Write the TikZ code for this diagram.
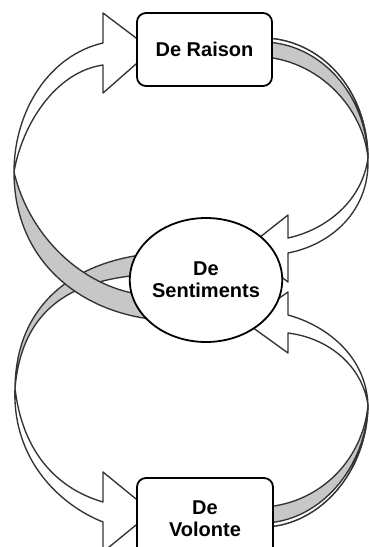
\documentclass[tikz,border=0pt]{standalone}
\usepackage{fontspec}
\setmainfont{Liberation Sans}
\usetikzlibrary{shapes.geometric}
\begin{document}
\begin{tikzpicture}[x=1pt,y=-1pt,
  rib/.style={draw=black!80, line width=1.35pt, line join=round},
  ribw/.style={rib, fill=white},
  ribg/.style={rib, fill=black!22},
  lbl/.style={align=center, font=\fontsize{20}{22}\selectfont\bfseries, inner sep=0pt},
  boxnode/.style={lbl, draw=black, line width=1.8pt, fill=white, rounded corners=9pt},
  ellnode/.style={lbl, draw=black, line width=1.8pt, fill=white, ellipse}
]
\useasboundingbox (0,0) rectangle (369,547);
\clip (0,0) rectangle (369,547);
% twist points of the ribbons
\coordinate (tw1) at (14,172);
\coordinate (tw2) at (368,158);
\coordinate (tw3) at (15,388);
\coordinate (tw4) at (368,405);

% ---- right upper ribbon: Raison -> Sentiments
\path[ribw] (tw2) .. controls (370,212) and (330,245) .. (288,253) -- (288,282) -- (245,249) -- (288,215) -- (288,238) .. controls (325,230) and (362,202) .. (tw2) -- cycle;
\path[ribg] (265,38) .. controls (320,40) and (367,88) .. (tw2) .. controls (363,108) and (320,62) .. (265,57) -- cycle;
\path[ribw] (265,38) .. controls (320,40) and (367,88) .. (tw2) .. controls (366,93) and (320,44) .. (265,42) -- cycle;

% ---- right lower ribbon: Volonte -> Sentiments
\path[ribw] (tw4) .. controls (366,355) and (325,325) .. (288,315) -- (288,292) -- (245,322) -- (288,353) -- (288,333) .. controls (328,338) and (362,365) .. (tw4) -- cycle;
\path[ribg] (265,527) .. controls (320,525) and (367,472) .. (tw4) .. controls (363,460) and (320,503) .. (265,507) -- cycle;
\path[ribw] (265,527) .. controls (320,525) and (367,472) .. (tw4) .. controls (366,468) and (320,521) .. (265,523) -- cycle;

% ---- left lower ribbon: Sentiments -> Volonte (below)
\path[ribg] (160,253) .. controls (80,258) and (16,300) .. (tw3) .. controls (22,310) and (70,276) .. (160,274) -- cycle;
\path[ribw] (tw3) .. controls (12,460) and (60,505) .. (103,522) -- (103,552) -- (152,512) -- (103,472) -- (103,502) .. controls (55,488) and (22,450) .. (tw3) -- cycle;

% ---- left upper ribbon: Sentiments -> Raison (on top at crossing)
\path[ribg] (160,320) .. controls (82,314) and (14,262) .. (tw1) .. controls (30,240) and (90,296) .. (160,296) -- cycle;
\path[ribw] (tw1) .. controls (14,110) and (50,55) .. (103,43) -- (103,13) -- (152,50) -- (103,93) -- (103,65) .. controls (55,72) and (22,125) .. (tw1) -- cycle;

% ---- nodes
\node[boxnode, minimum width=135pt, minimum height=73pt] (raison) at (204.5,49.5) {De Raison};
\node[boxnode, minimum width=136pt, minimum height=81pt] (volonte) at (205,518.5) {De\\Volonte};
\node[ellnode, minimum width=134pt, minimum height=124pt] (sent) at (206,280) {De\\Sentiments};
\end{tikzpicture}
\end{document}
